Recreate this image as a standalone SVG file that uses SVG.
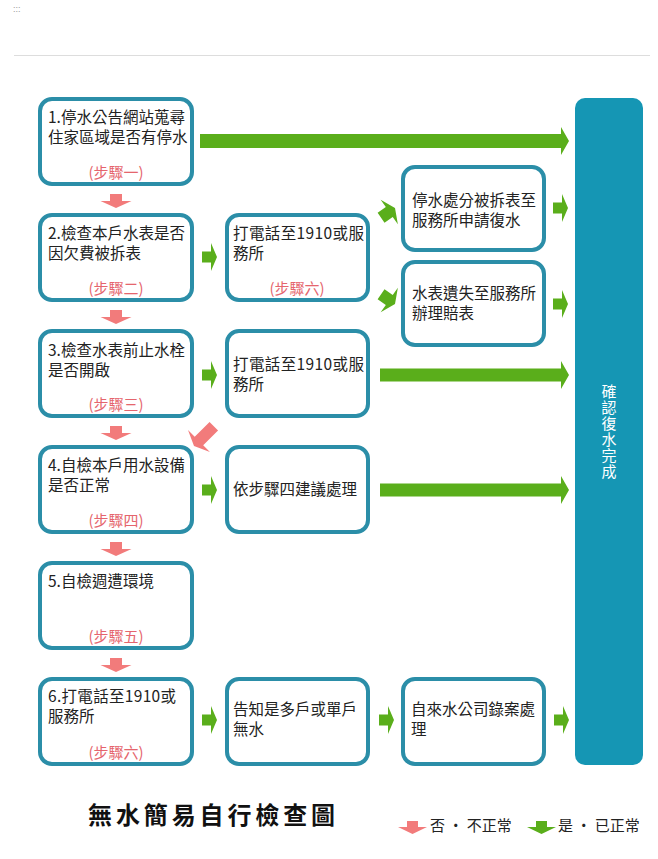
<svg xmlns="http://www.w3.org/2000/svg" xmlns:xlink="http://www.w3.org/1999/xlink" width="658" height="859" viewBox="0 0 658 859">
<style>
.box{fill:#fff;stroke:#2b8ea8;stroke-width:4}
.t{font-family:"Noto Sans CJK TC","Liberation Sans",sans-serif;font-size:15.5px;fill:#222}
.s{font-family:"Noto Sans CJK TC","Liberation Sans",sans-serif;font-size:15px;fill:#e5656d;text-anchor:middle}
.pk{fill:#f27b7b}
.gr{fill:#5aae1b}
</style>
<defs>
<path id="pa" d="M-6,-14 L6,-14 L6,-7 L15.5,-7 L0,0 L-15.5,-7 L-6,-7 Z"/>
<path id="ga" d="M-15,-5.5 L-6,-5.5 L-6,-14 L0,0 L-6,14 L-6,5.5 L-15,5.5 Z"/>
<path id="gd" d="M-17,-6 L-7,-6 L-7,-15 L0,0 L-7,15 L-7,6 L-17,6 Z"/>
</defs>
<rect width="658" height="859" fill="#fff"/>
<text x="13" y="12" font-family="Liberation Sans,sans-serif" font-size="9" fill="#999">:::</text>
<line x1="14" y1="55.5" x2="650" y2="55.5" stroke="#ddd" stroke-width="1"/>

<g id="connectors">
<g class="pk">
<use xlink:href="#pa" transform="translate(116,208)"/>
<use xlink:href="#pa" transform="translate(116,324)"/>
<use xlink:href="#pa" transform="translate(116,440)"/>
<use xlink:href="#pa" transform="translate(116,556)"/>
<use xlink:href="#pa" transform="translate(116,672)"/>
<path d="M-6,-28 L6,-28 L6,-7 L15.5,-7 L0,0 L-15.5,-7 L-6,-7 Z" transform="translate(194,446) rotate(45)"/>
</g>
<g class="gr">
<path d="M200,134 H561 V127 L569,141 L561,155 V148 H200 Z"/>
<path d="M380,368.5 H561 V361 L569,375 L561,389 V381.5 H380 Z"/>
<path d="M380,483.5 H561 V476 L569,490 L561,504 V496.5 H380 Z"/>
<use xlink:href="#ga" transform="translate(217,257)"/>
<use xlink:href="#ga" transform="translate(217,375)"/>
<use xlink:href="#ga" transform="translate(217,490)"/>
<use xlink:href="#ga" transform="translate(217,720)"/>
<use xlink:href="#ga" transform="translate(394,720)"/>
<use xlink:href="#ga" transform="translate(569,720)"/>
<use xlink:href="#ga" transform="translate(568,208)"/>
<use xlink:href="#ga" transform="translate(568,304)"/>
<use xlink:href="#gd" transform="translate(395,208) rotate(-35)"/>
<use xlink:href="#gd" transform="translate(395,304) rotate(35)"/>
</g>
</g>

<g id="step1">
<rect class="box" x="40" y="99" width="152" height="85" rx="12"/>
<text class="t" x="48" y="123">1.停水公告網站蒐尋</text>
<text class="t" x="48" y="143">住家區域是否有停水</text>
<text class="s" x="116" y="178">(步驟一)</text>
</g>
<g id="step2">
<rect class="box" x="40" y="215" width="152" height="85" rx="12"/>
<text class="t" x="48" y="239">2.檢查本戶水表是否</text>
<text class="t" x="48" y="259">因欠費被拆表</text>
<text class="s" x="116" y="294">(步驟二)</text>
</g>
<g id="step3">
<rect class="box" x="40" y="331" width="152" height="85" rx="12"/>
<text class="t" x="48" y="356">3.檢查水表前止水栓</text>
<text class="t" x="48" y="376">是否開啟</text>
<text class="s" x="116" y="410">(步驟三)</text>
</g>
<g id="step4">
<rect class="box" x="40" y="447" width="152" height="85" rx="12"/>
<text class="t" x="48" y="471">4.自檢本戶用水設備</text>
<text class="t" x="48" y="491">是否正常</text>
<text class="s" x="116" y="526">(步驟四)</text>
</g>
<g id="step5">
<rect class="box" x="40" y="563" width="152" height="85" rx="12"/>
<text class="t" x="48" y="587">5.自檢週遭環境</text>
<text class="s" x="116" y="642">(步驟五)</text>
</g>
<g id="step6">
<rect class="box" x="40" y="679" width="152" height="85" rx="12"/>
<text class="t" x="48" y="702" textLength="128" lengthAdjust="spacing">6.打電話至1910或</text>
<text class="t" x="48" y="722">服務所</text>
<text class="s" x="116" y="758">(步驟六)</text>
</g>

<g id="call1">
<rect class="box" x="227" y="215" width="141" height="85" rx="12"/>
<text class="t" x="233" y="239" textLength="131" lengthAdjust="spacing">打電話至1910或服</text>
<text class="t" x="233" y="259">務所</text>
<text class="s" x="297" y="294">(步驟六)</text>
</g>
<g id="call2">
<rect class="box" x="227" y="331" width="141" height="85" rx="12"/>
<text class="t" x="233" y="370" textLength="131" lengthAdjust="spacing">打電話至1910或服</text>
<text class="t" x="233" y="390">務所</text>
</g>
<g id="advice">
<rect class="box" x="227" y="447" width="141" height="85" rx="12"/>
<text class="t" x="233" y="495">依步驟四建議處理</text>
</g>
<g id="notify">
<rect class="box" x="227" y="679" width="141" height="85" rx="12"/>
<text class="t" x="233" y="715">告知是多戶或單戶</text>
<text class="t" x="233" y="735">無水</text>
</g>
<g id="reapply">
<rect class="box" x="403" y="167" width="141" height="83" rx="12"/>
<text class="t" x="412" y="206">停水處分被拆表至</text>
<text class="t" x="412" y="226">服務所申請復水</text>
</g>
<g id="lost">
<rect class="box" x="403" y="262" width="141" height="83" rx="12"/>
<text class="t" x="412" y="299">水表遺失至服務所</text>
<text class="t" x="412" y="319">辦理賠表</text>
</g>
<g id="record">
<rect class="box" x="403" y="679" width="141" height="85" rx="12"/>
<text class="t" x="411" y="715">自來水公司錄案處</text>
<text class="t" x="411" y="735">理</text>
</g>
<g id="done">
<rect x="575" y="98" width="68" height="667" rx="10" fill="#1596b4"/>
<text x="609" y="432" font-family="Noto Sans CJK TC,Liberation Sans,sans-serif" font-size="15" fill="#fff" text-anchor="middle" writing-mode="vertical-rl" letter-spacing="1">確認復水完成</text>
</g>

<text x="88" y="824" font-family="Noto Sans CJK TC,sans-serif" font-size="24" font-weight="bold" fill="#111" textLength="247" lengthAdjust="spacing">無水簡易自行檢查圖</text>

<g id="legend">
<path class="pk" d="M407,821 H418 V827 H427 L412.5,834 L398,827 H407 Z"/>
<text x="430" y="831" font-family="Noto Sans CJK TC,sans-serif" font-size="15" fill="#222">否 · 不正常</text>
<path class="gr" d="M536,821 H547 V827 H556 L541.5,834 L527,827 H536 Z"/>
<text x="558" y="831" font-family="Noto Sans CJK TC,sans-serif" font-size="15" fill="#222">是 · 已正常</text>
</g>
</svg>
